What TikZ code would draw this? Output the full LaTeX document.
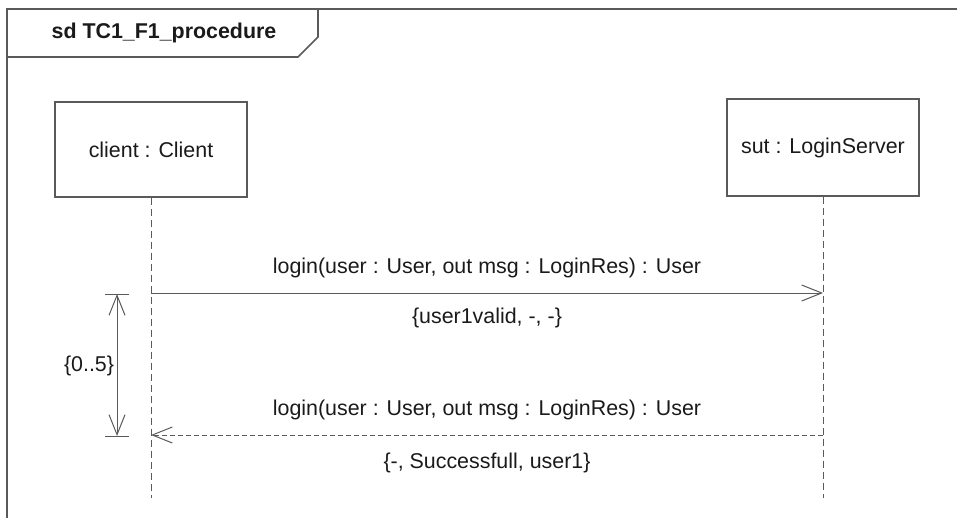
\documentclass[tikz,border=0pt]{standalone}
\usepackage{fontspec}
\setmainfont{Liberation Sans}
\usetikzlibrary{arrows.meta}
\definecolor{lc}{HTML}{5A5A5A}
\definecolor{tc}{HTML}{1A1A1A}
\tikzset{
  lifebox/.style={draw=lc, line width=1.2pt, minimum width=192pt, inner sep=0pt, text=tc, font=\fontsize{21.4}{24}\selectfont},
  lifeline/.style={draw=lc, line width=1pt, dash pattern=on 7pt off 4pt},
  msg/.style={draw=lc, line width=1pt, -{Straight Barb[length=20pt,width=16pt,line width=1pt]}},
  reply/.style={msg, dash pattern=on 5pt off 3pt},
  lbl/.style={text=tc, font=\fontsize{21.4}{24}\selectfont, inner sep=0pt},
  framel/.style={draw=lc, line width=2pt},
}
\begin{document}
\begin{tikzpicture}[x=1pt,y=-1pt]
\useasboundingbox (0,0) rectangle (957,518);
% frame
\draw[framel] (957,9) -- (7,9) -- (7,518);
\draw[draw=lc, line width=1.6pt] (7,57) -- (298,57) -- (318,37) -- (318,9);
\node[lbl, font=\fontsize{21.4}{24}\selectfont\bfseries, anchor=center] (title) at (164,33) {sd TC1\_F1\_procedure};
% lifelines
\node[lifebox, minimum height=95pt] (client) at (151,149.5) {client : Client};
\node[lifebox, minimum height=97pt] (sut) at (823,147.5) {sut : LoginServer};
\coordinate (cend) at (151,498);
\coordinate (send) at (823,498);
\draw[lifeline] (client.south) -- (cend);
\draw[lifeline] (sut.south) -- (send);
% messages
\coordinate (m1a) at (151,293);
\coordinate (m1b) at (823,293);
\coordinate (m2a) at (823,435);
\coordinate (m2b) at (151,435);
\draw[msg] (m1a) -- (m1b);
\draw[reply] (m2a) -- (m2b);
\node[lbl] (l1) at (487,268) {login(user : User, out msg : LoginRes) : User};
\node[lbl] (l1b) at (487,318) {\{user1valid, -, -\}};
\node[lbl] (l2) at (487,410) {login(user : User, out msg : LoginRes) : User};
\node[lbl] (l2b) at (487,463) {\{-, Successfull, user1\}};
% duration constraint
\coordinate (d1) at (117,294);
\coordinate (d2) at (117,436);
\coordinate (t1a) at (105,294);
\coordinate (t1b) at (129,294);
\coordinate (t2a) at (105,436);
\coordinate (t2b) at (129,436);
\draw[draw=lc, line width=1pt] (t1a) -- (t1b);
\draw[draw=lc, line width=1pt] (t2a) -- (t2b);
\draw[draw=lc, line width=1pt, {Straight Barb[length=20pt,width=16pt,line width=1pt]}-{Straight Barb[length=20pt,width=16pt,line width=1pt]}] (d1) -- (d2);
\node[lbl] (dur) at (89,366) {\{0..5\}};
\end{tikzpicture}
\end{document}
